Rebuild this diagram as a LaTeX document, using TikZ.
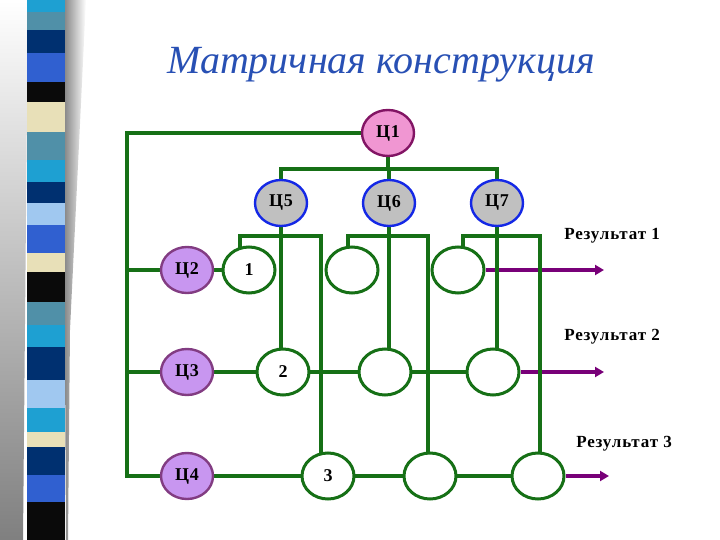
\documentclass[tikz,border=0pt]{standalone}
\usepackage{fontspec}
\setmainfont{Liberation Serif}
\usetikzlibrary{shapes.geometric,arrows.meta,backgrounds}
\definecolor{lgreen}{RGB}{22,112,22}
\definecolor{arrpurple}{RGB}{120,0,120}
\definecolor{pinkfill}{RGB}{240,150,210}
\definecolor{pinkline}{RGB}{130,20,100}
\definecolor{lavfill}{RGB}{200,150,240}
\definecolor{lavline}{RGB}{130,60,130}
\definecolor{grayfill}{RGB}{192,192,192}
\definecolor{blueline}{RGB}{20,40,230}
\definecolor{titleblue}{RGB}{40,80,180}
\definecolor{sA}{RGB}{30,160,210}
\definecolor{sB}{RGB}{80,144,168}
\definecolor{sC}{RGB}{0,48,112}
\definecolor{sD}{RGB}{48,96,208}
\definecolor{sE}{RGB}{10,10,10}
\definecolor{sF}{RGB}{232,224,184}
\definecolor{sG}{RGB}{160,200,240}
\tikzset{
  cell/.style={ellipse,draw=lgreen,line width=3pt,fill=white,minimum width=52pt,minimum height=46pt,inner sep=0pt,font=\bfseries\fontsize{18}{18}\selectfont\addfontfeature{LetterSpace=4}},
  topnode/.style={cell,draw=pinkline,fill=pinkfill,line width=2.4pt},
  mgrnode/.style={cell,draw=blueline,fill=grayfill,line width=2.4pt},
  rownode/.style={cell,draw=lavline,fill=lavfill,line width=2.4pt},
  wire/.style={draw=lgreen,line width=3.2pt},
  result/.style={draw=arrpurple,line width=4pt,-{Triangle[length=9pt,width=10pt]}},
  reslabel/.style={font=\bfseries\fontsize{17}{17}\selectfont\addfontfeature{LetterSpace=5},inner sep=0pt}
}
\begin{document}
\begin{tikzpicture}[x=1pt,y=-1pt]
\useasboundingbox (0,0) rectangle (720,540);
% decorative left stripe
\shade[top color=white,bottom color=gray] (0,0) -- (28,0) -- (23,540) -- (0,540) -- cycle;
\shade[left color=gray,right color=white] (63,0) -- (86,0) -- (70,330) -- (68,540) -- (66,540) -- cycle;
\foreach \ya/\yb/\c in {0/12/sA,12/30/sB,30/53/sC,53/82/sD,82/102/sE,102/132/sF,132/160/sB,160/182/sA,182/203/sC,203/225/sG,225/253/sD,253/272/sF,272/302/sE,302/325/sB,325/347/sA,347/380/sC,380/408/sG,408/432/sA,432/447/sF,447/475/sC,475/502/sD,502/540/sE}
  \fill[\c] (27,\ya) rectangle (65,\yb);
% title
\node[anchor=base,text=titleblue,font=\itshape\fontsize{40}{40}\selectfont,inner sep=0pt] (title) at (381,74) {Матричная конструкция};
% nodes
\node[topnode] (c1) at (388,133) {Ц1};
\node[mgrnode] (c5) at (281,203) {Ц5};
\node[mgrnode] (c6) at (389,203) {Ц6};
\node[mgrnode] (c7) at (497,203) {Ц7};
\node[rownode] (c2) at (187,270) {Ц2};
\node[rownode] (c3) at (187,372) {Ц3};
\node[rownode] (c4) at (187,476) {Ц4};
\node[cell] (r11) at (249,270) {1};
\node[cell] (r12) at (352,270) {};
\node[cell] (r13) at (458,270) {};
\node[cell] (r21) at (283,372) {2};
\node[cell] (r22) at (385,372) {};
\node[cell] (r23) at (493,372) {};
\node[cell] (r31) at (328,476) {3};
\node[cell] (r32) at (430,476) {};
\node[cell] (r33) at (538,476) {};
\node[reslabel] (l1) at (612,236) {Результат 1};
\node[reslabel] (l2) at (612,337) {Результат 2};
\node[reslabel] (l3) at (624,444) {Результат 3};
% helper coordinates
\coordinate (lt) at (127,133);
\coordinate (lb) at (127,476);
\coordinate (hb) at (0,169);
\coordinate (b5l) at (240,236);
\coordinate (b5r) at (321,236);
\coordinate (b6l) at (348,236);
\coordinate (b6r) at (428,236);
\coordinate (b7l) at (463,236);
\coordinate (b7r) at (540,236);
\coordinate (e1) at (604,270);
\coordinate (e2) at (604,372);
\coordinate (e3) at (609,476);
\begin{pgfonlayer}{background}
  % result arrows
  \draw[result] (r13.east) -- (e1);
  \draw[result] (r23.east) -- (e2);
  \draw[result] (r33.east) -- (e3);
  % left bus
  \draw[wire] (c1.center) -- (lt) -- (lb) -- (c4.center) -- (r33.center);
  \draw[wire] (lt |- c2) -- (r11.center);
  \draw[wire] (lt |- c3) -- (r23.center);
  % top bus
  \draw[wire] (c1.center) -- (c1 |- hb);
  \draw[wire] (c5.center) -- (c5 |- hb) -- (c7 |- hb) -- (c7.center);
  \draw[wire] (c6.center) -- (c6 |- hb);
  % Ц5 brackets
  \draw[wire] (c5.center) -- (c5 |- r21);
  \draw[wire] (b5l |- r11) -- (b5l) -- (b5r) -- (b5r |- r31);
  % Ц6 brackets
  \draw[wire] (c6.center) -- (c6 |- r22);
  \draw[wire] (b6l |- r12) -- (b6l) -- (b6r) -- (b6r |- r32);
  % Ц7 brackets
  \draw[wire] (c7.center) -- (c7 |- r23);
  \draw[wire] (b7l |- r13) -- (b7l) -- (b7r) -- (b7r |- r33);
\end{pgfonlayer}
\end{tikzpicture}
\end{document}
